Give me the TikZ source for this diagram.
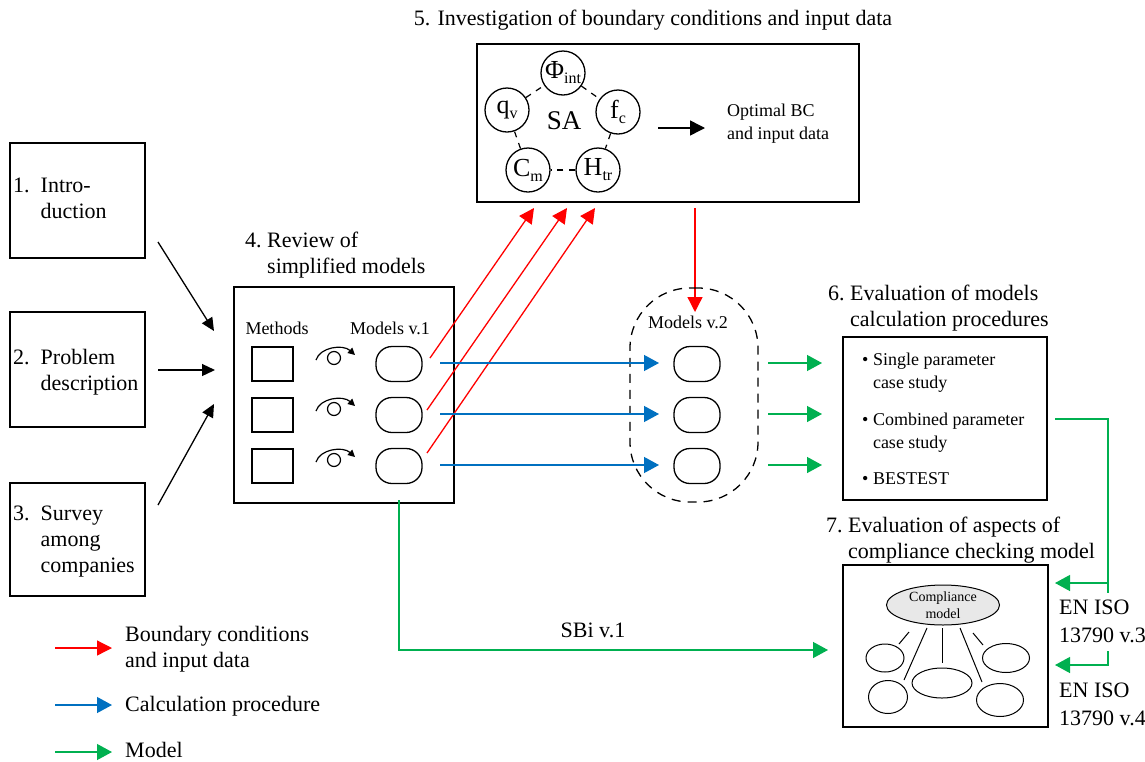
\documentclass[tikz,border=0pt]{standalone}
\usepackage{fontspec}
\setmainfont{Liberation Serif}
\usetikzlibrary{arrows.meta,shapes.geometric}
\definecolor{cred}{RGB}{255,0,0}
\definecolor{cblue}{RGB}{0,112,192}
\definecolor{cgreen}{RGB}{0,176,80}
\definecolor{cgrey}{RGB}{232,232,232}
\newcommand\hng[2]{\begin{tabular}[t]{@{}l@{\ }l@{}}#1 & #2\end{tabular}}
\newcommand\hngw[2]{\begin{tabular}[t]{@{}l@{\hspace{11pt}}l@{}}#1 & #2\end{tabular}}
\newcommand\lft[1]{\begin{tabular}[t]{@{}l@{}}#1\end{tabular}}
\begin{document}
\begin{tikzpicture}[x=1pt,y=-1pt,
  box/.style={draw, line width=1.6pt, inner sep=0pt},
  big/.style={font=\fontsize{22}{26}\selectfont},
  small/.style={font=\fontsize{18}{23}\selectfont},
  txt/.style={inner sep=0pt, anchor=base west},
  ctxt/.style={inner sep=0pt, anchor=base},
  model/.style={draw, line width=1.3pt, rounded corners=16pt, minimum width=46pt, minimum height=35pt, inner sep=0pt},
  meth/.style={draw, line width=1.3pt, minimum width=41pt, minimum height=34pt, inner sep=0pt},
  circ/.style={draw, circle, line width=1.3pt, minimum size=44pt, inner sep=0pt, font=\fontsize{26}{26}\selectfont},
  barr/.style={line width=1.3pt, -{Triangle[length=13pt,width=12pt]}},
  rarr/.style={cred, line width=1.3pt, -{Triangle[length=15pt,width=15pt]}},
  blarr/.style={cblue, line width=1.3pt, -{Triangle[length=15pt,width=16pt]}},
  garr/.style={cgreen, line width=1.3pt, -{Triangle[length=15pt,width=16pt]}},
  ell/.style={draw, ellipse, line width=1pt, inner sep=0pt},
]
\useasboundingbox (0,0) rectangle (1145,761);

% ---- boxes 1-3
\node[box, minimum width=135pt, minimum height=115pt] (b1) at (77.5,200.5) {};
\node[box, minimum width=135pt, minimum height=115pt] (b2) at (77.5,369.5) {};
\node[box, minimum width=135pt, minimum height=113pt] (b3) at (77.5,539.5) {};
\node[txt,big] (t1) at (13,192) {\hngw{1.}{Intro-\\ & duction}};
\node[txt,big] (t2) at (13,364) {\hngw{2.}{Problem\\ & description}};
\node[txt,big] (t3) at (13,520) {\hngw{3.}{Survey\\ & among\\ & companies}};

% arrows into box 4
\coordinate (a1s) at (158,242); \coordinate (a1e) at (214,331);
\coordinate (a2s) at (158,370); \coordinate (a2e) at (215,370);
\coordinate (a3s) at (158,505); \coordinate (a3e) at (214,404);
\draw[barr] (a1s) -- (a1e);
\draw[barr] (a2s) -- (a2e);
\draw[barr] (a3s) -- (a3e);

% ---- box 4
\node[box, minimum width=220pt, minimum height=216pt] (b4) at (344,395) {};
\node[txt,big] (t4) at (245,247) {\hng{4.}{Review of\\ & simplified models}};
\node[ctxt,small] (meths) at (277,334) {Methods};
\node[ctxt,small] (mv1) at (390,334) {Models v.1};
\foreach \i/\y in {1/364,2/415,3/466}{
  \node[meth] (s\i) at (272.5,\y) {};
  \node[model] (m\i) at (399,\y) {};
  \draw[line width=1.2pt, -{Triangle[length=7pt,width=7pt]}] (316,\y-4) .. controls (320,\y-17) and (343,\y-20) .. (355,\y-9);
  \draw[line width=1.2pt] (334,\y-6) circle (6.5);
  \node[model] (n\i) at (697,\y) {};
}

% ---- box 5
\node[box, minimum width=382pt, minimum height=158pt] (b5) at (668,123) {};
\node[ctxt,big] (t5) at (653,25) {5. Investigation of boundary conditions and input data};
\node[circ] (phi) at (563,73) {Φ\raisebox{-5pt}{\fontsize{16}{16}\selectfont int}};
\node[circ] (qv) at (507,110) {q\raisebox{-5pt}{\fontsize{16}{16}\selectfont v}};
\node[circ] (fc) at (618,112) {f\raisebox{-5pt}{\fontsize{16}{16}\selectfont c}};
\node[circ] (cm) at (528,170) {C\raisebox{-5pt}{\fontsize{16}{16}\selectfont m}};
\node[circ] (htr) at (598,170) {H\raisebox{-5pt}{\fontsize{16}{16}\selectfont tr}};
\node[inner sep=0pt, font=\fontsize{27}{27}\selectfont] (sa) at (564,121) {SA};
\draw[line width=1.2pt, dash pattern=on 6pt off 6pt] (phi) -- (fc);
\draw[line width=1.2pt, dash pattern=on 6pt off 6pt] (fc) -- (htr);
\draw[line width=1.2pt, dash pattern=on 6pt off 6pt] (htr) -- (cm);
\draw[line width=1.2pt, dash pattern=on 6pt off 6pt] (cm) -- (qv);
\draw[line width=1.2pt, dash pattern=on 6pt off 6pt] (qv) -- (phi);
\coordinate (oas) at (658,128);
\coordinate (oae) at (705,128);
\draw[line width=1.5pt, -{Triangle[length=15pt,width=15pt]}] (oas) -- (oae);
\node[txt,small] (opt) at (727,116) {\lft{Optimal BC\\ and input data}};
% red arrows
\coordinate (r1s) at (430,358); \coordinate (r1e) at (534,208);
\coordinate (r2s) at (427,410); \coordinate (r2e) at (567,208);
\coordinate (r3s) at (427,453); \coordinate (r3e) at (595,208);
\draw[rarr] (r1s) -- (r1e);
\draw[rarr] (r2s) -- (r2e);
\draw[rarr] (r3s) -- (r3e);
\coordinate (rds) at (695,208);
\coordinate (rd) at (695,312);
\draw[rarr] (rds) -- (rd);

% ---- models v.2 group
\node[draw, line width=1.3pt, dash pattern=on 9pt off 7pt, rounded corners=60pt, minimum width=128pt, minimum height=214pt] (grp) at (694,395) {};
\node[ctxt,small] (mv2) at (688,328) {Models v.2};
\foreach \i/\y in {1/364,2/415,3/466}{
  \coordinate (bs\i) at (440,\y-1);
  \coordinate (be\i) at (659,\y-1);
  \draw[blarr] (bs\i) -- (be\i);
  \coordinate (gs\i) at (768,\y-1);
  \coordinate (ge\i) at (822,\y-1);
  \draw[garr] (gs\i) -- (ge\i);
}

% ---- box 6
\node[box, minimum width=204pt, minimum height=163pt] (b6) at (945,418.5) {};
\node[txt,big] (t6) at (828,300) {\hng{6.}{Evaluation of models\\ & calculation procedures}};
\node[txt,small] (bl1) at (862,365) {\hng{•}{Single parameter\\ & case study}};
\node[txt,small] (bl2) at (862,425) {\hng{•}{Combined parameter\\ & case study}};
\node[txt,small] (bl3) at (862,484) {\hng{•}{BESTEST}};

% ---- box 7
\node[box, minimum width=205pt, minimum height=162pt] (b7) at (945.5,646) {};
\node[txt,big] (t7) at (826,532) {\hng{7.}{Evaluation of aspects of\\ & compliance checking model}};
\node[ell, fill=cgrey, minimum width=113pt, minimum height=40pt, font=\fontsize{14}{17}\selectfont, align=center] (cmod) at (943,605) {Compliance\\model};
\node[ell, minimum width=38pt, minimum height=28pt] (e1) at (885,658) {};
\node[ell, minimum width=39pt, minimum height=33pt] (e2) at (888,697) {};
\node[ell, minimum width=60pt, minimum height=30pt] (e3) at (942,683) {};
\node[ell, minimum width=47pt, minimum height=29pt] (e4) at (1006,658) {};
\node[ell, minimum width=47pt, minimum height=33pt] (e5) at (1000,700) {};
\draw[line width=1pt] (909,632) -- (899,644);
\draw[line width=1pt] (927,628) -- (904,680);
\draw[line width=1pt] (942,628) -- (942,663);
\draw[line width=1pt] (960,628) -- (982,682);
\draw[line width=1pt] (973,633) -- (983,645);

% ---- green connectors
\coordinate (sbs) at (399,500); \coordinate (sbk) at (399,650); \coordinate (sbe) at (828,650);
\draw[garr] (sbs) -- (sbk) -- (sbe);
\node[ctxt,big] (sbi) at (593,637) {SBi v.1};
\coordinate (g6s) at (1055,419); \coordinate (gk1) at (1108,419);
\coordinate (gk2) at (1108,665); \coordinate (g7b) at (1055,665);
\coordinate (gk3) at (1108,583); \coordinate (g7a) at (1055,583);
\draw[garr] (g6s) -- (gk1) -- (gk2) -- (g7b);
\draw[garr] (gk3) -- (g7a);
\node[txt, fill=white, inner sep=1pt, font=\fontsize{22}{28}\selectfont] (iso3) at (1058,614) {\lft{EN ISO\\ 13790 v.3}};
\node[txt, fill=white, inner sep=1pt, font=\fontsize{22}{28}\selectfont] (iso4) at (1058,697) {\lft{EN ISO\\ 13790 v.4}};

% ---- legend
\coordinate (lr1) at (55,648); \coordinate (lr2) at (112,648);
\coordinate (lb1) at (55,705); \coordinate (lb2) at (112,705);
\coordinate (lg1) at (55,752); \coordinate (lg2) at (112,752);
\draw[rarr] (lr1) -- (lr2);
\draw[blarr] (lb1) -- (lb2);
\draw[garr] (lg1) -- (lg2);
\node[txt,big] (lt1) at (125,641) {\lft{Boundary conditions\\ and input data}};
\node[txt,big] (lt2) at (125,711) {Calculation procedure};
\node[txt,big] (lt3) at (125,757) {Model};
\end{tikzpicture}
\end{document}
